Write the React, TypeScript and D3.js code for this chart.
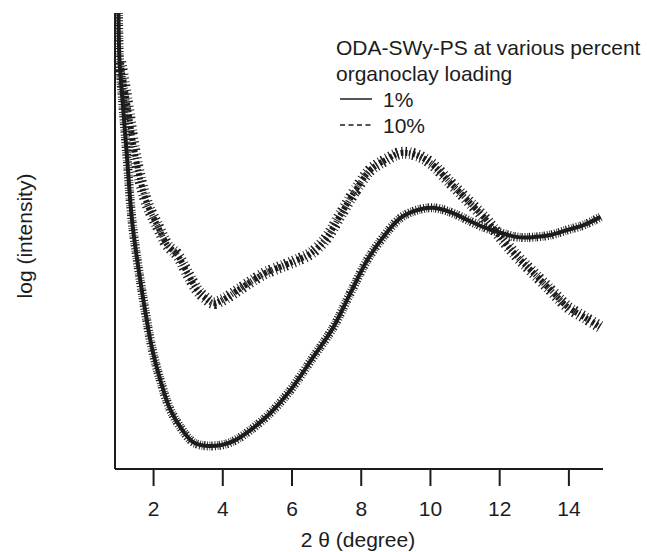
import React, { useEffect, useRef } from 'react';
import * as d3 from 'd3';

// 1% loading (solid)
const theta1 = [1.0, 1.03, 1.11, 1.26, 1.4, 1.72, 1.98, 2.21, 2.5, 2.85, 3.16, 3.51, 4.0, 4.38, 4.81, 5.39, 5.97, 6.63, 7.21, 7.7, 8.19, 8.65, 9.14, 9.64, 10.1, 10.59, 11.08, 11.55, 12.04, 12.53, 12.99, 13.49, 13.98, 14.44, 14.93];
const logI1 = [105.8, 94.9, 86.3, 71.0, 57.1, 39.2, 27.6, 20.6, 13.7, 9.0, 6.2, 5.4, 5.6, 6.7, 9.0, 13.0, 18.3, 26.0, 32.9, 40.8, 48.5, 53.8, 58.2, 60.1, 60.6, 59.6, 57.8, 56.1, 54.8, 53.8, 53.8, 54.3, 55.5, 56.6, 58.5];

// 10% loading (dotted)
const theta10 = [1.05, 1.14, 1.29, 1.43, 1.63, 1.84, 2.12, 2.41, 2.7, 2.99, 3.28, 3.51, 3.74, 4.0, 4.38, 4.81, 5.25, 5.68, 6.11, 6.55, 6.98, 7.41, 7.85, 8.28, 8.72, 9.15, 9.59, 10.02, 10.59, 11.08, 11.55, 12.04, 12.53, 12.99, 13.49, 13.98, 14.44, 14.93];
const logI10 = [94.4, 90.3, 82.8, 75.2, 67.1, 61.3, 56.6, 52.0, 49.7, 45.5, 41.5, 39.7, 38.5, 39.2, 41.1, 43.4, 45.5, 46.9, 48.3, 50.0, 53.3, 58.9, 64.7, 69.4, 71.7, 73.3, 72.9, 71.0, 66.4, 62.4, 58.5, 53.8, 49.2, 45.5, 41.5, 37.6, 35.3, 32.9];

const xTicks = [2, 4, 6, 8, 10, 12, 14];
const legendTitle = ['ODA-SWy-PS at various percent', 'organoclay loading'];
const legendItems = ['1%', '10%'];

const W = 647;
const H = 552;
const ink = '#1c1c1c';
const font = '"Liberation Sans", Arial, sans-serif';
const fs = '21px';

const App = () => {
  const chartRef = useRef<SVGSVGElement>(null);

  useEffect(() => {
    drawChart();
  }, []);

  const drawChart = () => {
    const svg = d3.select(chartRef.current);
    svg.selectAll('*').remove();

    const left = 115, right = 603, top = 13, bottom = 469;

    const x = d3.scaleLinear().domain([0.9, 15]).range([left, right]);
    const y = d3.scaleLinear().domain([0, 105.8]).range([bottom, top]);

    const line = d3.line<[number, number]>()
      .x(d => x(d[0]))
      .y(d => y(d[1]))
      .curve(d3.curveCatmullRom);

    const s1 = theta1.map((t, i) => [t, logI1[i]] as [number, number]);
    const s10 = theta10.map((t, i) => [t, logI10[i]] as [number, number]);

    // 10% series: speckled band
    svg.append('path')
      .attr('d', line(s10))
      .attr('fill', 'none')
      .attr('stroke', ink)
      .attr('stroke-width', 12)
      .attr('stroke-dasharray', '1.2 3.1 0.8 2.2 1.6 3.6 1 2.7');
    svg.append('path')
      .attr('d', line(s10))
      .attr('fill', 'none')
      .attr('stroke', ink)
      .attr('stroke-width', 6)
      .attr('stroke-dasharray', '2.2 1.4 1.2 2.4 2.8 1.8')
      .attr('stroke-dashoffset', 1);

    // 1% series: dense band
    svg.append('path')
      .attr('d', line(s1))
      .attr('fill', 'none')
      .attr('stroke', ink)
      .attr('stroke-width', 9)
      .attr('stroke-dasharray', '1 1.6 0.7 1.1 1.3 1.9');
    svg.append('path')
      .attr('d', line(s1))
      .attr('fill', 'none')
      .attr('stroke', ink)
      .attr('stroke-width', 4);

    // axes
    svg.append('line')
      .attr('x1', left).attr('x2', left)
      .attr('y1', top).attr('y2', bottom)
      .attr('stroke', ink).attr('stroke-width', 2);

    const gx = svg.append('g')
      .attr('transform', `translate(0,${bottom})`)
      .call(d3.axisBottom(x).tickValues(xTicks).tickSize(17).tickPadding(15).tickFormat(d3.format('d')));
    gx.select('.domain')
      .attr('d', `M${left},0H${right}`)
      .attr('stroke', ink).attr('stroke-width', 2);
    gx.selectAll('.tick line').attr('stroke', ink).attr('stroke-width', 2);
    gx.selectAll('.tick text')
      .attr('fill', ink)
      .style('font-family', font)
      .style('font-size', fs);

    svg.append('text')
      .attr('x', 358).attr('y', 547)
      .attr('text-anchor', 'middle')
      .attr('fill', ink)
      .style('font-family', font)
      .style('font-size', fs)
      .text('2 θ (degree)');

    svg.append('text')
      .attr('transform', 'translate(32,236) rotate(-90)')
      .attr('text-anchor', 'middle')
      .attr('fill', ink)
      .style('font-family', font)
      .style('font-size', fs)
      .text('log (intensity)');

    // legend
    const lg = svg.append('g').style('font-family', font).style('font-size', fs).attr('fill', ink);
    legendTitle.forEach((t, i) => {
      lg.append('text').attr('x', 336).attr('y', 55 + i * 26).text(t);
    });
    legendItems.forEach((t, i) => {
      const yy = 107 + i * 26;
      lg.append('line')
        .attr('x1', 340).attr('x2', 372)
        .attr('y1', yy - 8).attr('y2', yy - 8)
        .attr('stroke', ink)
        .attr('stroke-width', 1.5)
        .attr('stroke-dasharray', i === 0 ? null : '5 3.5');
      lg.append('text').attr('x', 383).attr('y', yy).text(t);
    });
  };

  return <svg ref={chartRef} width={W} height={H} style={{ position: 'absolute', left: 0, top: 0 }} />;
};

export default App;
